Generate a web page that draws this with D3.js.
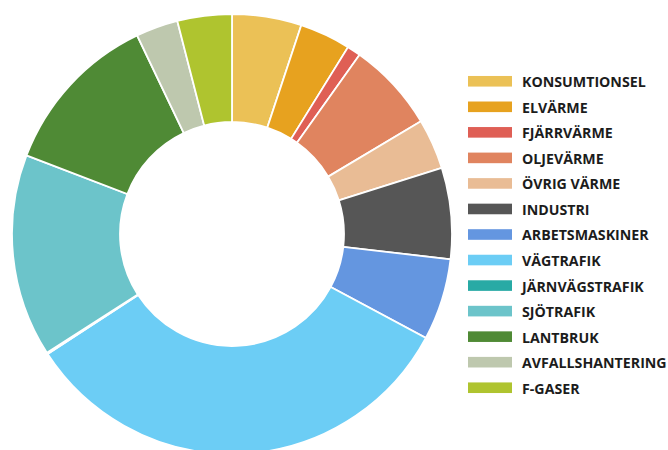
<!DOCTYPE html>
<html>
<head>
<meta charset="utf-8">
<script src="https://cdn.jsdelivr.net/npm/d3@7"></script>
<style>
  body { margin: 0; background: #fff; }
  svg { display: block; }
  .legend text { font-family: "Open Sans", sans-serif; font-weight: 700; font-size: 14.2px; fill: #1c1c1c; }
</style>
</head>
<body>
<div id="chart"></div>
<script>
// Sectors, in drawing order (clockwise from 12 o'clock)
var categories = [
    "KONSUMTIONSEL", "ELVÄRME", "FJÄRRVÄRME", "OLJEVÄRME", "ÖVRIG VÄRME",
    "INDUSTRI", "ARBETSMASKINER", "VÄGTRAFIK", "JÄRNVÄGSTRAFIK", "SJÖTRAFIK",
    "LANTBRUK", "AVFALLSHANTERING", "F-GASER"
];
// Share of emissions (%)
var values = [5.1, 3.75, 1.0, 6.6, 3.7, 6.7, 6.0, 33.0, 0.1, 14.9, 12.1, 3.1, 4.0];
var colors = [
    "#ebc156", "#e7a21f", "#df5f55", "#e0845f", "#e9bc95",
    "#565656", "#6496e0", "#6ccdf5", "#28aaa5", "#6cc4ca",
    "#4f8a35", "#bec8ae", "#afc42f"
];

var width = 668, height = 450;
var cx = 232, cy = 234;
var outerR = 220, innerR = 112;

var svg = d3.select("#chart").append("svg")
    .attr("width", width)
    .attr("height", height);

var data = categories.map(function(c, i) {
    return { name: c, value: values[i], color: colors[i] };
});

var pie = d3.pie()
    .sort(null)
    .value(function(d) { return d.value; });

var arc = d3.arc()
    .innerRadius(innerR)
    .outerRadius(outerR);

var g = svg.append("g")
    .attr("transform", "translate(" + cx + "," + cy + ")");

g.selectAll("path")
    .data(pie(data))
    .enter().append("path")
    .attr("d", arc)
    .attr("fill", function(d) { return d.data.color; })
    .attr("stroke", "#fff")
    .attr("stroke-width", 1.8);

// Legend
var legendY = d3.scaleBand()
    .domain(categories)
    .range([68.5, 400.5]);

var legend = svg.append("g")
    .attr("class", "legend")
    .attr("transform", "translate(468,0)");

var rows = legend.selectAll("g")
    .data(data)
    .enter().append("g")
    .attr("transform", function(d) {
        return "translate(0," + (legendY(d.name) + legendY.bandwidth() / 2) + ")";
    });

rows.append("rect")
    .attr("x", 0)
    .attr("y", -5.3)
    .attr("width", 44)
    .attr("height", 10.6)
    .attr("fill", function(d) { return d.color; });

rows.append("text")
    .attr("x", 54)
    .attr("dy", "0.42em")
    .text(function(d) { return d.name; });
</script>
</body>
</html>
